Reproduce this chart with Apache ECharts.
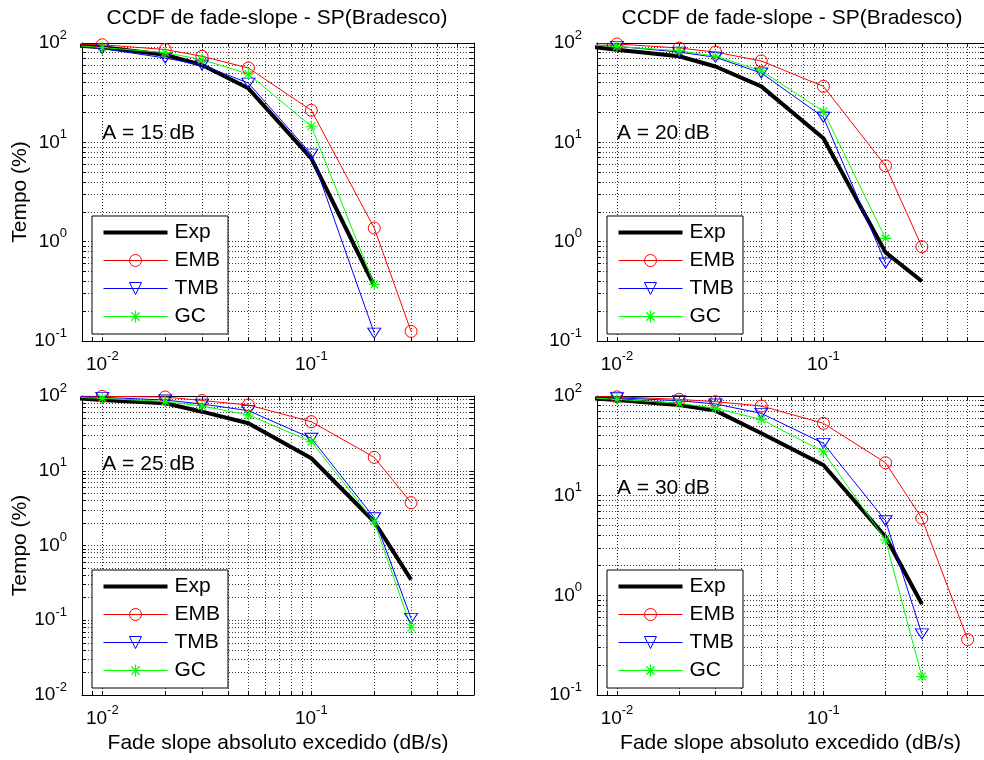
<!DOCTYPE html>
<html>
<head>
<meta charset="utf-8">
<title>CCDF de fade-slope - SP(Bradesco)</title>
<script src="https://cdn.jsdelivr.net/npm/echarts@6/dist/echarts.min.js"></script>
<style>
  html, body { margin: 0; padding: 0; background: #fff; }
  #chart { width: 984px; height: 760px; }
</style>
</head>
<body>
<div id="chart"></div>
<script>
// Fade slope thresholds (dB/s). The first one lies left of the visible axis range.
const fadeSlope = [0.005, 0.01, 0.02, 0.03, 0.05, 0.1, 0.2, 0.3, 0.5];

const seriesNames = ['Exp', 'EMB', 'TMB', 'GC'];
const panelTitle = 'CCDF de fade-slope - SP(Bradesco)';
const xAxisName = 'Fade slope absoluto excedido (dB/s)';
const yAxisName = 'Tempo (%)';
const attenuationLabels = ['A = 15 dB', 'A = 20 dB', 'A = 25 dB', 'A = 30 dB'];

// Percentage of time the fade slope is exceeded (null = no sample)
const exp15 = [100, 90.6, 76, 60, 35, 6.9, 0.36, null, null];
const emb15 = [100, 96, 86, 73.5, 56, 21, 1.37, 0.125, null];
const tmb15 = [100, 88, 70.6, 60, 39.5, 7.6, 0.12, null, null];
const gc15  = [100, 90, 80, 68, 48.7, 14.5, 0.37, null, null];

const exp20 = [100, 85.7, 73.5, 58, 36.6, 11, 0.78, 0.4, null];
const emb20 = [100, 97.7, 89, 81, 66, 36.6, 5.8, 0.89, null];
const tmb20 = [100, 92.6, 81, 71.8, 49.9, 17.9, 0.61, null, null];
const gc20  = [100, 92, 83.7, 73.5, 52.6, 20.5, 1.08, null, null];

const exp25 = [100, 88.4, 79.8, 61.7, 43.2, 14.7, 2.08, 0.35, null];
const emb25 = [100, 99, 97, 87, 75.8, 45.3, 15.1, 3.74, null];
const tmb25 = [100, 96, 88.4, 78, 63.7, 27.2, 2.35, 0.106, null];
const gc25  = [100, 93, 84, 73.5, 55.7, 24.5, 2.08, 0.08, null];

const exp30 = [100, 91.2, 81.2, 71.3, 42.3, 20.3, 3.87, 0.82, null];
const emb30 = [100, 98, 92.6, 87.7, 79.4, 53.2, 21.4, 5.93, 0.36];
const tmb30 = [100, 96, 89.7, 83.2, 67, 33.5, 5.6, 0.41, null];
const gc30  = [100, 92.6, 84.5, 75.2, 58.3, 27.6, 3.59, 0.153, null];

// Axis ranges and decade ticks
const xRange = [0.008, 0.6];
const xDecades = [0.01, 0.1];
const yRanges = [[0.1, 100], [0.1, 100], [0.01, 100], [0.1, 100]];

// Where each "A = .. dB" note sits, in data units
const noteX = 0.01;
const noteY = [12.4, 12.4, 12.3, 11.9];

const panelValues = [
  [exp15, emb15, tmb15, gc15],
  [exp20, emb20, tmb20, gc20],
  [exp25, emb25, tmb25, gc25],
  [exp30, emb30, tmb30, gc30]
];

// ---------- layout & styling ----------
const FONT = '"Liberation Sans", Arial, Helvetica, sans-serif';
const panelBoxes = [
  { left: 82,  top: 43,  width: 392, height: 298 },
  { left: 597, top: 43,  width: 392, height: 298 },
  { left: 82,  top: 396, width: 392, height: 299 },
  { left: 597, top: 396, width: 392, height: 299 }
];

// MATLAB-like asterisk marker
const STAR = 'path://M-1,-10L1,-10L1,10L-1,10Z' +
  'M-10,-1L10,-1L10,1L-10,1Z' +
  'M-6.29,-7.71L7.71,6.29L6.29,7.71L-7.71,-6.29Z' +
  'M-7.71,6.29L6.29,-7.71L7.71,-6.29L-6.29,7.71Z';
// thick bar used as the legend key of the measured curve
const THICK_BAR = 'path://M0,0L64,0L64,4L0,4Z';

const seriesStyles = {
  Exp: { symbol: 'none', lineStyle: { color: '#000000', width: 4 }, itemStyle: { color: '#000000' } },
  EMB: { symbol: 'circle', symbolSize: 12,
         lineStyle: { color: '#ff0000', width: 1 },
         itemStyle: { color: 'rgba(0,0,0,0)', borderColor: '#ff0000', borderWidth: 1 } },
  TMB: { symbol: 'triangle', symbolRotate: 180, symbolSize: [13, 10],
         lineStyle: { color: '#0000ff', width: 1 },
         itemStyle: { color: 'rgba(0,0,0,0)', borderColor: '#0000ff', borderWidth: 1 } },
  GC:  { symbol: STAR, symbolSize: 11,
         lineStyle: { color: '#00ff00', width: 1 },
         itemStyle: { color: '#00ff00' } }
};

// decade grid: every integer multiple (1..9) of each decade inside the range
function logGridValues(lo, hi) {
  const out = [];
  for (let e = Math.floor(Math.log10(lo)) - 1; e <= Math.ceil(Math.log10(hi)); e++) {
    for (let m = 1; m <= 9; m++) {
      const v = parseFloat((m * Math.pow(10, e)).toPrecision(6));
      if (v > lo * 1.0001 && v < hi * 0.9999) out.push(v);
    }
  }
  return out;
}
function decadesIn(lo, hi) {
  const out = [];
  for (let e = Math.round(Math.log10(lo)); e <= Math.round(Math.log10(hi)); e++) {
    out.push(parseFloat(Math.pow(10, e).toPrecision(6)));
  }
  return out;
}

function powLabel(v) {
  const lg = Math.log10(v);
  const e = Math.round(lg);
  if (Math.abs(lg - e) > 1e-6) return '';
  return '{b|10}{s|' + e + '}';
}
const powRich = {
  b: { fontSize: 19, lineHeight: 29, fontFamily: FONT, color: '#000' },
  s: { fontSize: 13, verticalAlign: 'top', fontFamily: FONT, color: '#000' }
};

const grids = [], xAxes = [], yAxes = [], series = [], titles = [], legends = [];

panelBoxes.forEach(function (box, p) {
  grids.push(Object.assign({ containLabel: false, show: false }, box));

  const yr = yRanges[p];
  const tickX = logGridValues(xRange[0], xRange[1]);
  const tickY = logGridValues(yr[0], yr[1]);
  const isBottom = p >= 2, isLeft = p % 2 === 0;

  const baseAxisLine = { show: true, onZero: false, lineStyle: { color: '#000', width: 1 } };
  const tickStyle = { show: true, inside: true, length: 4, lineStyle: { color: '#000', width: 1 } };

  // bottom (labelled) and top x axes
  xAxes.push({
    type: 'log', logBase: 10, gridIndex: p, position: 'bottom',
    min: xRange[0], max: xRange[1],
    axisLine: baseAxisLine,
    axisTick: Object.assign({ customValues: tickX }, tickStyle),
    splitLine: { show: false }, minorTick: { show: false },
    axisLabel: { show: true, customValues: xDecades, margin: 9, formatter: powLabel, rich: powRich },
    name: isBottom ? xAxisName : '', nameLocation: 'middle', nameGap: 38,
    nameTextStyle: { fontSize: 21, fontFamily: FONT, color: '#000' },
    silent: true
  });
  xAxes.push({
    type: 'log', logBase: 10, gridIndex: p, position: 'top',
    min: xRange[0], max: xRange[1],
    axisLine: baseAxisLine,
    axisTick: Object.assign({ customValues: tickX }, tickStyle),
    splitLine: { show: false }, axisLabel: { show: false }, silent: true
  });

  // left (labelled) and right y axes
  yAxes.push({
    type: 'log', logBase: 10, gridIndex: p, position: 'left',
    min: yr[0], max: yr[1],
    axisLine: baseAxisLine,
    axisTick: Object.assign({ customValues: tickY }, tickStyle),
    splitLine: { show: false }, minorTick: { show: false },
    axisLabel: { show: true, customValues: decadesIn(yr[0], yr[1]), margin: 15,
                 formatter: powLabel, rich: powRich },
    name: isLeft ? yAxisName : '', nameLocation: 'middle', nameGap: 50,
    nameTextStyle: { fontSize: 21, fontFamily: FONT, color: '#000' },
    silent: true
  });
  yAxes.push({
    type: 'log', logBase: 10, gridIndex: p, position: 'right',
    min: yr[0], max: yr[1],
    axisLine: baseAxisLine,
    axisTick: Object.assign({ customValues: tickY }, tickStyle),
    splitLine: { show: false }, axisLabel: { show: false }, silent: true
  });

  // dotted major + minor grid, and the attenuation note
  const gridMarks = tickX.map(function (v) { return { xAxis: v }; })
    .concat(tickY.map(function (v) { return { yAxis: v }; }));
  series.push({
    type: 'line', name: 'grade' + p, xAxisIndex: 2 * p, yAxisIndex: 2 * p,
    data: [], silent: true, z: 1,
    markLine: {
      silent: true, symbol: ['none', 'none'], label: { show: false }, z: 1,
      animation: false, emphasis: { disabled: true },
      lineStyle: { color: '#1a1a1a', type: [1, 2], width: 1, opacity: 0.85 },
      data: gridMarks
    },
    markPoint: {
      silent: true, symbol: 'circle', symbolSize: 0, z: 6, animation: false,
      label: { show: true, position: 'right', distance: 0, fontSize: 21,
               fontFamily: FONT, color: '#000' },
      data: [{ coord: [noteX, noteY[p]], label: { formatter: attenuationLabels[p] } }]
    }
  });

  // the four curves
  seriesNames.forEach(function (name, k) {
    const vals = panelValues[p][k];
    const pts = [];
    fadeSlope.forEach(function (x, i) { if (vals[i] != null) pts.push([x, vals[i]]); });
    series.push(Object.assign({
      type: 'line', name: name, xAxisIndex: 2 * p, yAxisIndex: 2 * p,
      data: pts, showAllSymbol: true, clip: true, z: 3,
      emphasis: { disabled: true }, animation: false, silent: true
    }, seriesStyles[name]));
  });

  if (p < 2) {
    titles.push({
      text: panelTitle, left: box.left + box.width / 2 - 1, top: 8, padding: 0,
      textAlign: 'center',
      textStyle: { fontSize: 21, fontWeight: 'normal', fontFamily: FONT, color: '#000' }
    });
  }

  legends.push({
    data: [
      { name: 'Exp', icon: THICK_BAR, itemStyle: { color: '#000' } },
      { name: 'EMB' }, { name: 'TMB' }, { name: 'GC' }
    ],
    orient: 'vertical',
    left: box.left + 10, top: isBottom ? 570 : 216,
    itemWidth: 64, itemHeight: 15, itemGap: 7,
    padding: [6, 8, 7, 11],
    borderColor: '#000', borderWidth: 1, borderRadius: 0, backgroundColor: '#fff',
    selectedMode: false, z: 10,
    lineStyle: { width: 1 },
    itemStyle: { borderWidth: 1 },
    textStyle: { fontSize: 21, fontFamily: FONT, color: '#000', padding: [0, 0, 0, 2] }
  });
});

const chart = echarts.init(document.getElementById('chart'), null, { renderer: 'canvas' });
chart.setOption({
  backgroundColor: '#ffffff',
  animation: false,
  title: titles,
  legend: legends,
  grid: grids,
  xAxis: xAxes,
  yAxis: yAxes,
  series: series
});
</script>
</body>
</html>
